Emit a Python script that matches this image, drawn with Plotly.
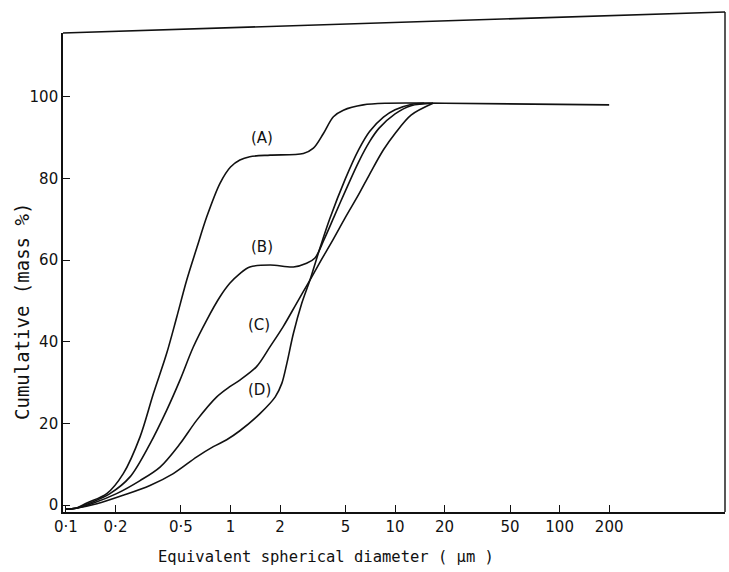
import math
import plotly.graph_objects as go

# ---- data ----
a_x = [0.1, 0.115, 0.134, 0.177, 0.223, 0.282, 0.340, 0.409, 0.471, 0.542, 0.624, 0.717, 0.863, 1.0, 1.14, 1.31, 1.74, 2.77, 3.19, 3.67, 4.22, 4.85, 6.41, 8.9, 20, 200]
a_y = [-1, -0.8, 0.5, 2.8, 7.7, 16.7, 27.3, 37.1, 46.0, 55.1, 63.0, 70.6, 78.8, 82.8, 84.5, 85.3, 85.7, 86.1, 87.4, 91.0, 95.1, 96.7, 98.0, 98.4, 98.4, 98.0]

b_x = [0.1, 0.115, 0.140, 0.185, 0.245, 0.324, 0.409, 0.493, 0.594, 0.717, 0.863, 0.99, 1.14, 1.31, 1.74, 2.41, 2.90, 3.26, 3.7, 4.3, 5.0, 6.0, 7.0, 8.0, 10, 12.5, 17]
b_y = [-1, -0.8, 0.5, 2.8, 6.9, 15.0, 23.2, 30.6, 38.7, 45.3, 51.0, 54.3, 56.7, 58.3, 58.8, 58.3, 59.2, 60.5, 65, 71, 77, 84, 89, 92.3, 95.8, 97.8, 98.4]

c_x = [0.1, 0.115, 0.147, 0.203, 0.282, 0.373, 0.493, 0.624, 0.825, 0.99, 1.14, 1.44, 1.74, 2.09, 2.52, 3.04, 3.5, 4.2, 5.0, 6.0, 7.0, 8.5, 10, 12.5, 17]
c_y = [-1, -0.8, 0.5, 2.8, 6.0, 9.3, 15.0, 20.8, 26.5, 29.0, 30.6, 33.9, 38.8, 43.7, 49.4, 55.1, 59.5, 65, 70.5, 76, 81, 87, 91, 95.5, 98.4]

d_x = [0.1, 0.115, 0.154, 0.223, 0.324, 0.449, 0.624, 0.786, 0.948, 1.14, 1.51, 1.87, 2.05, 2.20, 2.41, 2.71, 3.04, 3.5, 4.0, 5.0, 6.0, 7.0, 8.5, 10, 12.5, 15]
d_y = [-1, -0.8, 0.3, 2.4, 4.8, 7.7, 11.8, 14.3, 16.0, 18.2, 22.4, 26.5, 29.8, 34.7, 42.0, 49.4, 55.1, 63, 70, 80, 87, 91.5, 95, 96.8, 98.1, 98.4]

series_names = ["(A)", "(B)", "(C)", "(D)"]
label_x = [1.55, 1.55, 1.48, 1.51]
label_y = [89.8, 63.2, 44.0, 28.1]

x_tickvals = [0.1, 0.2, 0.5, 1, 2, 5, 10, 20, 50, 100, 200]
x_ticktext = ["0·1", "0·2", "0·5", "1", "2", "5", "10", "20", "50", "100", "200"]
y_tickvals = [0, 20, 40, 60, 80, 100]
y_ticktext = ["0", "20", "40", "60", "80", "100"]

x_title = "Equivalent spherical diameter ( μm )"
y_title = "Cumulative (mass %)"

# ---- figure ----
ink = "#111111"
fig = go.Figure()
for name, xs, ys in zip(series_names, [a_x, b_x, c_x, d_x], [a_y, b_y, c_y, d_y]):
    fig.add_trace(go.Scatter(x=xs, y=ys, mode="lines", name=name,
                             line=dict(color=ink, width=1.6, shape="spline", smoothing=0.9),
                             showlegend=False, hoverinfo="skip"))

for name, lx, ly in zip(series_names, label_x, label_y):
    fig.add_annotation(x=math.log10(lx), y=ly, xref="x", yref="y", text=name, showarrow=False,
                       font=dict(family="DejaVu Sans", size=15, color=ink))

W, H = 729, 572
ml, mr, mt, mb = 63, 4, 33, 60
ph = H - mt - mb
pw = W - ml - mr
slant = 21 / ph

fig.update_layout(
    width=W, height=H,
    margin=dict(l=ml, r=mr, t=mt, b=mb, pad=0),
    paper_bgcolor="white", plot_bgcolor="white",
    font=dict(family="DejaVu Sans", size=15, color=ink),
    xaxis=dict(type="log", range=[-1.018, 3.005], tickvals=x_tickvals, ticktext=x_ticktext,
               ticks="inside", ticklen=7, tickwidth=1.3, tickcolor=ink,
               showline=True, linecolor=ink, linewidth=1.6, showgrid=False, zeroline=False,
               tickfont=dict(family="DejaVu Sans", size=15, color=ink)),
    yaxis=dict(range=[-1.7, 115.6], tickvals=y_tickvals, ticktext=y_ticktext,
               ticks="inside", ticklen=7, tickwidth=1.3, tickcolor=ink,
               showline=True, linecolor=ink, linewidth=1.6, showgrid=False, zeroline=False,
               tickfont=dict(family="DejaVu Sans", size=15, color=ink)),
    shapes=[
        dict(type="line", xref="paper", yref="paper", x0=0, y0=1, x1=1, y1=1 + slant,
             line=dict(color=ink, width=1.6)),
        dict(type="line", xref="paper", yref="paper", x0=1, y0=0, x1=1, y1=1 + slant,
             line=dict(color=ink, width=1.4)),
    ],
)

fig.add_annotation(x=(326 - ml) / pw, y=(H - mb - 557) / ph, xref="paper", yref="paper",
                   text=x_title, showarrow=False, xanchor="center", yanchor="middle",
                   font=dict(family="DejaVu Sans Mono", size=15.5, color=ink))
fig.add_annotation(x=(22 - ml) / pw, y=(H - mb - 312) / ph, xref="paper", yref="paper",
                   text=y_title, showarrow=False, textangle=-90, xanchor="center", yanchor="middle",
                   font=dict(family="DejaVu Sans Mono", size=19, color=ink))

fig.write_html("out.html", config={"displayModeBar": False},
               post_script="document.body.style.margin='0';")
